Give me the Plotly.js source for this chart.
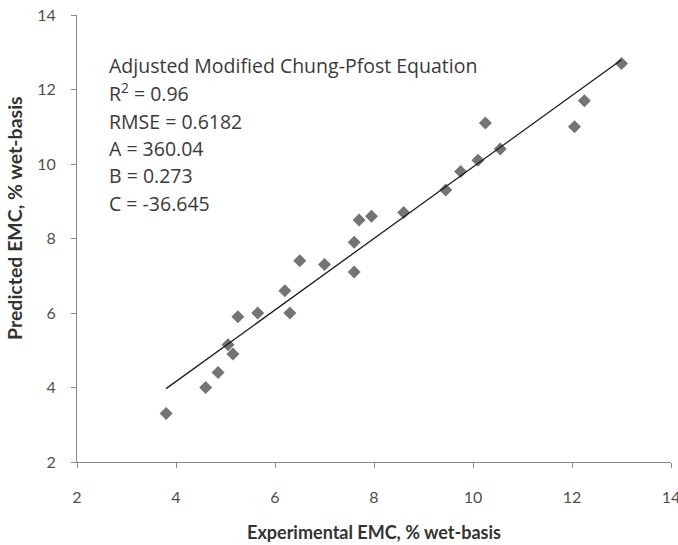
<!DOCTYPE html>
<html>
<head>
<meta charset="utf-8">
<script src="https://cdn.plot.ly/plotly-3.0.1.min.js"></script>
<style>
  html, body { margin: 0; padding: 0; background: #ffffff; overflow: hidden; }
  #chart { width: 678px; height: 545px; }
</style>
</head>
<body>
<div id="chart"></div>
<script>
// Experimental vs predicted equilibrium moisture content (% wet basis)
const experimentalEMC = [3.8, 4.6, 4.85, 5.05, 5.15, 5.25, 5.65, 6.2, 6.3, 6.5, 7.0, 7.6,
                         7.6, 7.7, 7.95, 8.6, 9.45, 9.75, 10.1, 10.25, 10.55, 12.05, 12.25, 13.0];
const predictedEMC    = [3.3, 4.0, 4.4, 5.15, 4.9, 5.9, 6.0, 6.6, 6.0, 7.4, 7.3, 7.9,
                         7.1, 8.5, 8.6, 8.7, 9.3, 9.8, 10.1, 11.1, 10.4, 11.0, 11.7, 12.7];

// Linear trend line end points
const trendX = [3.8, 13.0];
const trendY = [3.97, 12.8];

const axisTicks = [2, 4, 6, 8, 10, 12, 14];

const statsLines = [
  'Adjusted Modified Chung-Pfost Equation',
  'R<sup>2</sup> = 0.96',
  'RMSE = 0.6182',
  'A = 360.04',
  'B = 0.273',
  'C = -36.645'
];

const FONT = 'Lato, "Open Sans", sans-serif';
const STATS_FONT = '"Open Sans", Lato, sans-serif';

const traces = [
  {
    x: experimentalEMC, y: predictedEMC,
    type: 'scatter', mode: 'markers',
    marker: { symbol: 'diamond', size: 10, color: '#747474' },
    hoverinfo: 'x+y', showlegend: false
  },
  {
    x: trendX, y: trendY,
    type: 'scatter', mode: 'lines',
    line: { color: '#1a1a1a', width: 1.3 },
    hoverinfo: 'skip', showlegend: false
  }
];

// plot area spans 77..671 px horizontally and 15..462 px vertically
const plotTop = 15, plotH = 447;
const pyToPaper = py => 1 - (py - plotTop) / plotH;

const textCentres = [66, 93, 121, 148, 175.5, 203];
const annotations = statsLines.map((t, i) => ({
  text: t, xref: 'paper', yref: 'paper',
  x: (107 - 77) / 594, y: pyToPaper(textCentres[i]),
  xanchor: 'left', yanchor: 'middle', showarrow: false,
  font: { family: STATS_FONT, size: 19.5, color: '#3a3a3a' }
}));

// vertical axis title
annotations.push({
  text: '<b>Predicted EMC, % wet-basis</b>',
  xref: 'paper', yref: 'paper',
  x: (14 - 77) / 594, y: pyToPaper(218),
  xanchor: 'center', yanchor: 'middle', textangle: -90, showarrow: false,
  font: { family: FONT, size: 19.5, color: '#333333' }
});

const axisCommon = {
  range: [2, 14], tickvals: axisTicks, ticktext: axisTicks.map(String),
  showgrid: false, zeroline: false,
  showline: true, linecolor: '#8a8a8a', linewidth: 1,
  ticks: 'outside', ticklen: 5, tickcolor: '#8a8a8a', tickwidth: 1,
  tickfont: { family: FONT, size: 16, color: '#505050' },
  ticklabeloverflow: 'allow',
  fixedrange: true
};

const layout = {
  width: 678, height: 545,
  margin: { l: 77, r: 7, t: 15, b: 83, pad: 0 },
  paper_bgcolor: '#ffffff', plot_bgcolor: '#ffffff',
  xaxis: Object.assign({}, axisCommon, {
    ticklabelstandoff: 16,
    title: { text: '<b>Experimental EMC, % wet-basis</b>', standoff: 21,
             font: { family: FONT, size: 18, color: '#333333' } }
  }),
  yaxis: Object.assign({}, axisCommon, { ticklabelstandoff: 12 }),
  annotations: annotations
};

Plotly.newPlot('chart', traces, layout, { displayModeBar: false, staticPlot: true });
</script>
</body>
</html>
